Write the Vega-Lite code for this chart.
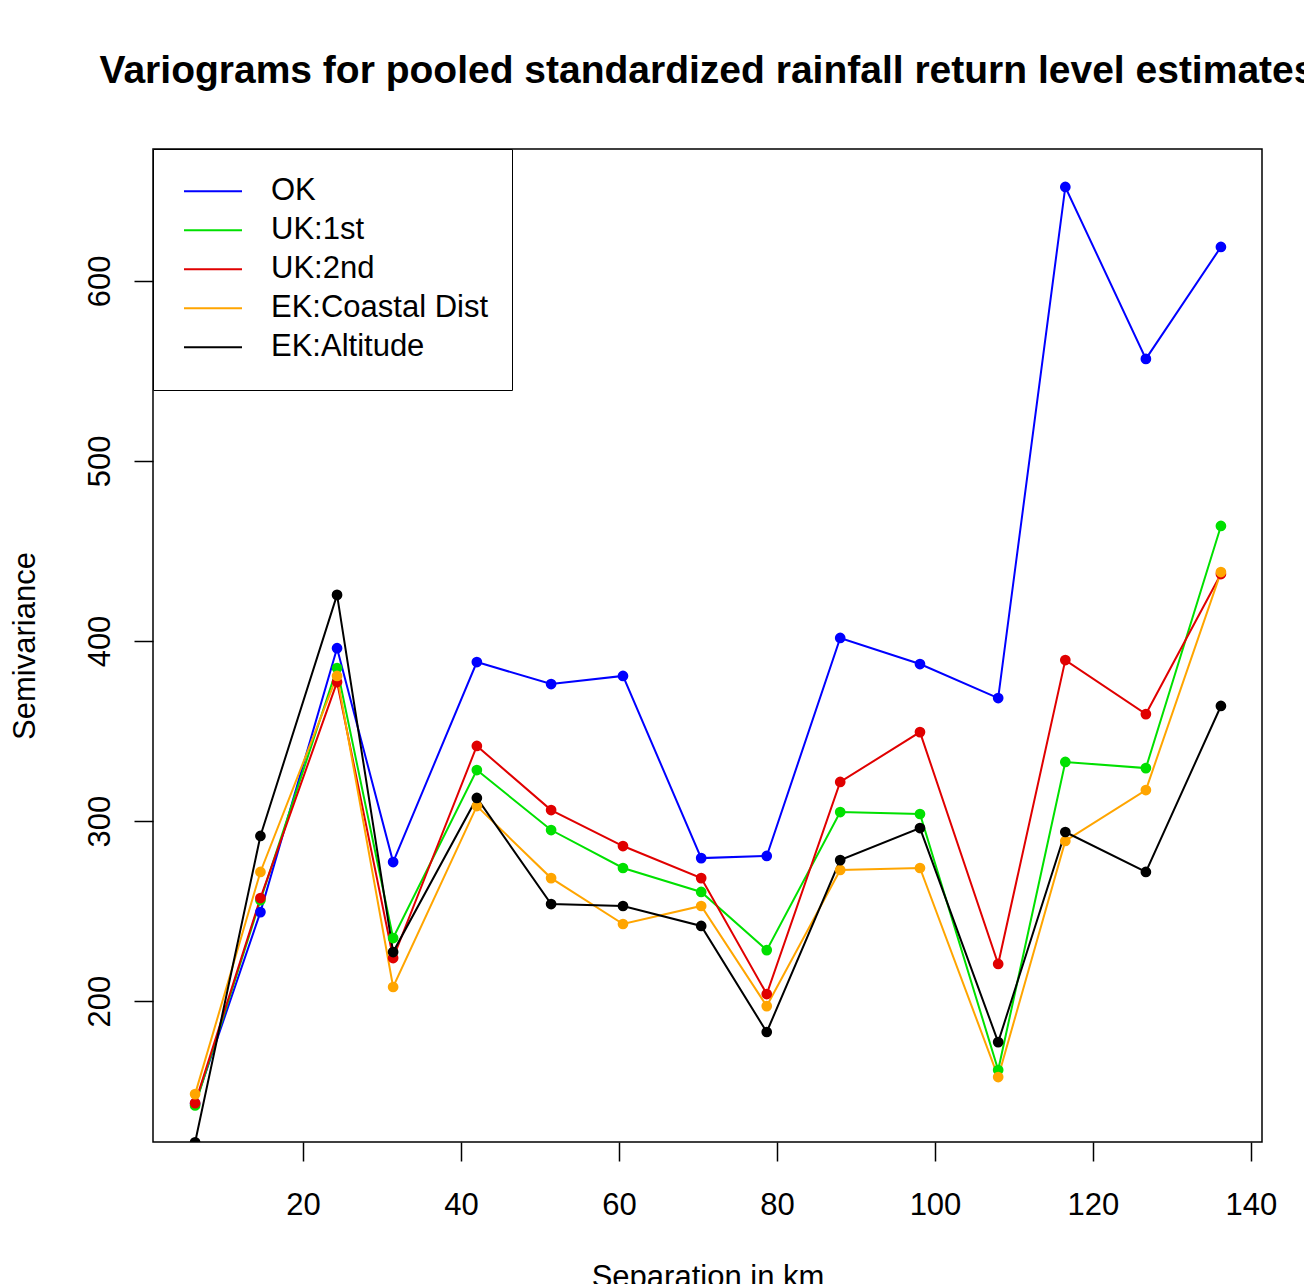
{
  "$schema": "https://vega.github.io/schema/vega-lite/v6.json",
  "autosize": "none",
  "width": 1109,
  "height": 993,
  "padding": {"left": 153, "top": 149, "right": 42, "bottom": 142},
  "background": "white",
  "title": {
    "text": "Variograms for pooled standardized rainfall return level estimates",
    "font": "Liberation Sans",
    "fontWeight": "bold",
    "fontSize": 39,
    "color": "black",
    "anchor": "middle",
    "baseline": "alphabetic",
    "offset": 27
  },
  "config": {
    "view": {"stroke": "black", "strokeWidth": 1.5},
    "axis": {
      "labelFont": "Liberation Sans",
      "titleFont": "Liberation Sans",
      "labelFontSize": 31,
      "titleFontSize": 31,
      "labelColor": "black",
      "titleColor": "black",
      "titleFontWeight": "normal",
      "tickColor": "black",
      "tickWidth": 1.5,
      "tickSize": 19,
      "domain": false,
      "grid": false
    },
    "legend": {
      "labelFont": "Liberation Sans",
      "labelFontSize": 31,
      "labelColor": "black",
      "labelLimit": 0
    }
  },
  "data": {
    "values": [
      {"x": 6.33, "series": "OK", "value": 143},
      {"x": 14.6, "series": "OK", "value": 249.4},
      {"x": 24.3, "series": "OK", "value": 396},
      {"x": 31.4, "series": "OK", "value": 277.2},
      {"x": 42.0, "series": "OK", "value": 388.3},
      {"x": 51.4, "series": "OK", "value": 376.1},
      {"x": 60.5, "series": "OK", "value": 380.6},
      {"x": 70.4, "series": "OK", "value": 279.4},
      {"x": 78.7, "series": "OK", "value": 280.6},
      {"x": 88.0, "series": "OK", "value": 401.7},
      {"x": 98.1, "series": "OK", "value": 387.2},
      {"x": 108.0, "series": "OK", "value": 368.3},
      {"x": 116.5, "series": "OK", "value": 652.2},
      {"x": 126.7, "series": "OK", "value": 556.7},
      {"x": 136.2, "series": "OK", "value": 618.9},
      {"x": 6.33, "series": "UK:1st", "value": 142},
      {"x": 14.6, "series": "UK:1st", "value": 256},
      {"x": 24.3, "series": "UK:1st", "value": 385},
      {"x": 31.4, "series": "UK:1st", "value": 235},
      {"x": 42.0, "series": "UK:1st", "value": 328.3},
      {"x": 51.4, "series": "UK:1st", "value": 295},
      {"x": 60.5, "series": "UK:1st", "value": 273.9},
      {"x": 70.4, "series": "UK:1st", "value": 260.6},
      {"x": 78.7, "series": "UK:1st", "value": 228.3},
      {"x": 88.0, "series": "UK:1st", "value": 305},
      {"x": 98.1, "series": "UK:1st", "value": 303.9},
      {"x": 108.0, "series": "UK:1st", "value": 161.7},
      {"x": 116.5, "series": "UK:1st", "value": 332.8},
      {"x": 126.7, "series": "UK:1st", "value": 329.4},
      {"x": 136.2, "series": "UK:1st", "value": 463.9},
      {"x": 6.33, "series": "UK:2nd", "value": 143.3},
      {"x": 14.6, "series": "UK:2nd", "value": 257.2},
      {"x": 24.3, "series": "UK:2nd", "value": 377.2},
      {"x": 31.4, "series": "UK:2nd", "value": 223.9},
      {"x": 42.0, "series": "UK:2nd", "value": 341.7},
      {"x": 51.4, "series": "UK:2nd", "value": 306.1},
      {"x": 60.5, "series": "UK:2nd", "value": 286.1},
      {"x": 70.4, "series": "UK:2nd", "value": 268.3},
      {"x": 78.7, "series": "UK:2nd", "value": 203.9},
      {"x": 88.0, "series": "UK:2nd", "value": 321.7},
      {"x": 98.1, "series": "UK:2nd", "value": 349.4},
      {"x": 108.0, "series": "UK:2nd", "value": 220.6},
      {"x": 116.5, "series": "UK:2nd", "value": 389.4},
      {"x": 126.7, "series": "UK:2nd", "value": 359.4},
      {"x": 136.2, "series": "UK:2nd", "value": 437.2},
      {"x": 6.33, "series": "EK:Coastal Dist", "value": 148.3},
      {"x": 14.6, "series": "EK:Coastal Dist", "value": 271.7},
      {"x": 24.3, "series": "EK:Coastal Dist", "value": 380.6},
      {"x": 31.4, "series": "EK:Coastal Dist", "value": 207.8},
      {"x": 42.0, "series": "EK:Coastal Dist", "value": 308.3},
      {"x": 51.4, "series": "EK:Coastal Dist", "value": 268.3},
      {"x": 60.5, "series": "EK:Coastal Dist", "value": 242.8},
      {"x": 70.4, "series": "EK:Coastal Dist", "value": 252.8},
      {"x": 78.7, "series": "EK:Coastal Dist", "value": 197.2},
      {"x": 88.0, "series": "EK:Coastal Dist", "value": 272.8},
      {"x": 98.1, "series": "EK:Coastal Dist", "value": 273.9},
      {"x": 108.0, "series": "EK:Coastal Dist", "value": 157.8},
      {"x": 116.5, "series": "EK:Coastal Dist", "value": 288.9},
      {"x": 126.7, "series": "EK:Coastal Dist", "value": 317.2},
      {"x": 136.2, "series": "EK:Coastal Dist", "value": 438.3},
      {"x": 6.33, "series": "EK:Altitude", "value": 121.5},
      {"x": 14.6, "series": "EK:Altitude", "value": 291.7},
      {"x": 24.3, "series": "EK:Altitude", "value": 425.6},
      {"x": 31.4, "series": "EK:Altitude", "value": 227.2},
      {"x": 42.0, "series": "EK:Altitude", "value": 312.8},
      {"x": 51.4, "series": "EK:Altitude", "value": 253.9},
      {"x": 60.5, "series": "EK:Altitude", "value": 252.8},
      {"x": 70.4, "series": "EK:Altitude", "value": 241.7},
      {"x": 78.7, "series": "EK:Altitude", "value": 182.8},
      {"x": 88.0, "series": "EK:Altitude", "value": 278.3},
      {"x": 98.1, "series": "EK:Altitude", "value": 296.1},
      {"x": 108.0, "series": "EK:Altitude", "value": 177.2},
      {"x": 116.5, "series": "EK:Altitude", "value": 293.9},
      {"x": 126.7, "series": "EK:Altitude", "value": 271.7},
      {"x": 136.2, "series": "EK:Altitude", "value": 363.9}
    ]
  },
  "encoding": {
    "x": {
      "field": "x",
      "type": "quantitative",
      "scale": {"domain": [1.0, 141.4], "nice": false, "zero": false},
      "axis": {
        "title": "Separation in km",
        "values": [20, 40, 60, 80, 100, 120, 140],
        "labelPadding": 29,
        "labelBaseline": "top",
        "titlePadding": 42
      }
    },
    "y": {
      "field": "value",
      "type": "quantitative",
      "scale": {"domain": [121.7, 673.3], "nice": false, "zero": false},
      "axis": {
        "title": "Semivariance",
        "values": [200, 300, 400, 500, 600],
        "labelAngle": 270,
        "labelAlign": "center",
        "labelBaseline": "middle",
        "labelPadding": 34,
        "titlePadding": 43
      }
    }
  },
  "layer": [
    {
      "mark": {"type": "line", "strokeWidth": 2, "clip": true},
      "encoding": {
        "color": {
          "field": "series",
          "type": "nominal",
          "sort": ["OK", "UK:1st", "UK:2nd", "EK:Coastal Dist", "EK:Altitude"],
          "scale": {
            "domain": ["OK", "UK:1st", "UK:2nd", "EK:Coastal Dist", "EK:Altitude"],
            "range": ["#0000FF", "#00E000", "#E00000", "#FFA500", "#000000"]
          },
          "legend": {
            "title": null,
            "orient": "none",
            "legendX": 0,
            "legendY": 0,
            "direction": "vertical",
            "symbolType": "stroke",
            "symbolSize": 3364,
            "symbolStrokeWidth": 2,
            "symbolOffset": 7,
            "clipHeight": 38.5,
            "rowPadding": 0,
            "labelOffset": 28,
            "labelLimit": 0,
            "padding": 23,
            "strokeColor": "black",
            "fillColor": "white",
            "labelBaseline": "middle"
          }
        }
      }
    },
    {
      "mark": {"type": "point", "filled": true, "size": 115, "opacity": 1, "clip": true},
      "encoding": {
        "fill": {
          "field": "series",
          "type": "nominal",
          "scale": {
            "domain": ["OK", "UK:1st", "UK:2nd", "EK:Coastal Dist", "EK:Altitude"],
            "range": ["#0000FF", "#00E000", "#E00000", "#FFA500", "#000000"]
          },
          "legend": null
        }
      }
    }
  ]
}
